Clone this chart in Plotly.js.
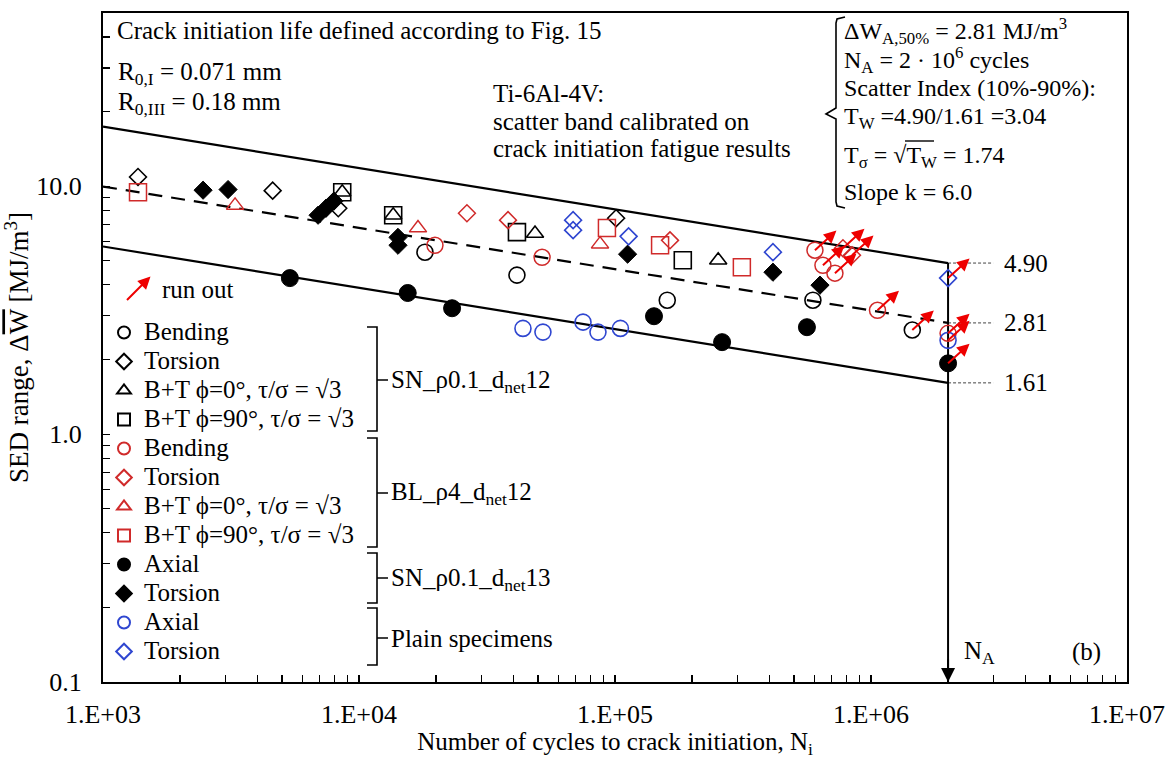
<!DOCTYPE html>
<html>
<head>
<meta charset="utf-8">
<script src="https://cdn.plot.ly/plotly-3.0.1.min.js"></script>
<style>
  html, body { margin: 0; padding: 0; background: #fff; }
  #chart { width: 1173px; height: 759px; }
</style>
</head>
<body>
<div id="chart"></div>
<script>
// ---- SN_ρ0.1_dnet12 (black, open symbols) ----
const snBendN = [1.81e4, 4.14e4, 1.60e5, 5.93e5, 1.45e6];
const snBendW = [5.42, 4.38, 3.47, 3.47, 2.63];
const snTorsN = [1.37e3, 4.60e3, 8.30e3, 1.01e5];
const snTorsW = [10.9, 9.60, 8.15, 7.43];
const snBt0N = [8.6e3, 1.36e4, 4.87e4, 2.53e5];
const snBt0W = [9.46, 7.64, 6.45, 5.03];
const snBt90N = [8.6e3, 1.36e4, 4.14e4, 1.84e5];
const snBt90W = [9.46, 7.64, 6.53, 5.03];

// ---- BL_ρ4_dnet12 (red, open symbols) ----
const blBendN = [1.98e4, 5.19e4, 6.04e5, 6.49e5, 7.23e5, 1.06e6, 2.0e6];
const blBendW = [5.78, 5.17, 5.52, 4.80, 4.46, 3.16, 2.55];
const blTorsN = [2.64e4, 3.82e4, 1.64e5, 7.77e5, 8.43e5];
const blTorsW = [7.78, 7.30, 6.05, 5.62, 5.27];
const blBt0N = [3.28e3, 1.70e4, 8.74e4];
const blBt0W = [8.37, 6.78, 5.84];
const blBt90N = [1.37e3, 9.30e4, 1.50e5, 3.13e5];
const blBt90W = [9.46, 6.78, 5.78, 4.71];

// ---- SN_ρ0.1_dnet13 (black, filled symbols) ----
const sn13AxN = [5.37e3, 1.55e4, 2.31e4, 1.42e5, 2.62e5, 5.62e5, 2.0e6];
const sn13AxW = [4.26, 3.71, 3.22, 2.99, 2.35, 2.70, 1.93];
const sn13TorsN = [2.46e3, 3.08e3, 6.92e3, 7.43e3, 7.98e3, 1.42e4, 1.42e4, 1.12e5, 4.14e5, 6.32e5];
const sn13TorsW = [9.64, 9.70, 7.64, 8.15, 8.71, 6.22, 5.78, 5.32, 4.50, 3.99];

// ---- Plain specimens (blue, open symbols) ----
const plainAxN = [4.37e4, 5.23e4, 7.50e4, 8.58e4, 1.05e5, 2.0e6];
const plainAxW = [2.67, 2.58, 2.83, 2.58, 2.67, 2.39];
const plainTorsN = [6.86e4, 6.86e4, 1.13e5, 4.14e5, 2.0e6];
const plainTorsW = [7.30, 6.65, 6.28, 5.42, 4.26];

// ---- run-outs (tests stopped without crack initiation) ----
const runoutN = [6.04e5, 6.49e5, 7.23e5, 7.77e5, 8.43e5, 1.06e6, 1.45e6, 2.0e6, 2.0e6, 2.0e6, 2.0e6];
const runoutW = [5.52, 4.80, 4.46, 5.62, 5.27, 3.16, 2.63, 4.26, 2.55, 2.39, 1.93];

// ---- scatter band: 10% / 50% / 90% survival at N_A, inverse slope k ----
const NA = 2e6;
const bandLevels = ['10%', '50%', '90%'];
const bandW = [4.90, 2.81, 1.61];
const slopeK = 6.0;
const NStart = 1e3;

// ---- axis ticks ----
const xDecades = [1e3, 1e4, 1e5, 1e6, 1e7];
const xDecadeLabels = ['1.E+03', '1.E+04', '1.E+05', '1.E+06', '1.E+07'];
const yLabelled = [0.1, 1, 10, 50];
const yLabels = ['0.1', '1.0', '10.0', '50.0'];

// ---------------------------------------------------------------
const FONT = 'Liberation Serif, Times New Roman, serif';
const TXT = 25;
const W = 1173, H = 759;
const M = { l: 103, r: 46, t: 13, b: 77 };
const plotW = W - M.l - M.r, plotH = H - M.t - M.b;
const px = x => (x - M.l) / plotW;          // pixel -> paper x
const py = y => (H - M.b - y) / plotH;      // pixel -> paper y

const RED = '#d02a2a', BLUE = '#2f46d0', BLACK = '#000000', ARROW = '#ee0000';

// minor tick positions (mantissa 1..9 of each decade)
const xTickVals = [], xTickText = [];
for (let d = 3; d <= 7; d++) {
  for (let m = 1; m <= 9; m++) {
    const v = m * Math.pow(10, d);
    if (v > 1e7) break;
    xTickVals.push(v);
    const k = xDecades.indexOf(v);
    xTickText.push(k >= 0 ? xDecadeLabels[k] : '');
  }
}
const yTickVals = [], yTickText = [];
for (let d = -1; d <= 1; d++) {
  for (let m = 1; m <= 9; m++) {
    const v = +(m * Math.pow(10, d)).toPrecision(3);
    if (v > 50) break;
    yTickVals.push(v);
    const k = yLabelled.indexOf(v);
    yTickText.push(k >= 0 ? yLabels[k] : '');
  }
}

const lg = t => '<span style="font-size:' + TXT + 'px">' + t + '</span>';
const BT0 = 'B+T \u03D5=0\u00B0, \u03C4/\u03C3 = \u221A3';
const BT90 = 'B+T \u03D5=90\u00B0, \u03C4/\u03C3 = \u221A3';

function series(n, w, name, symbol, color, size, lw) {
  return {
    x: n, y: w, name: lg(name), type: 'scatter', mode: 'markers',
    marker: { symbol: symbol, color: color, size: size, line: { color: color, width: lw } },
    cliponaxis: false
  };
}

// scatter band lines with slope 1/k in log-log
const bandLines = bandW.map((w, i) => ({
  x: [NStart, NA],
  y: [w * Math.pow(NStart / NA, -1 / slopeK), w],
  type: 'scatter', mode: 'lines', showlegend: false, hoverinfo: 'skip',
  line: { color: BLACK, width: 2.2, dash: i === 1 ? '14px,9px' : 'solid' }
}));

// leader lines to the band values
const leaders = bandW.map(w => ({
  x: [NA, NA * 1.5], y: [w, w], type: 'scatter', mode: 'lines',
  showlegend: false, hoverinfo: 'skip',
  line: { color: '#444', width: 1, dash: '3px,2px' }
}));

const naLine = {
  x: [NA, NA], y: [bandW[0], 0.1], type: 'scatter', mode: 'lines',
  showlegend: false, hoverinfo: 'skip', line: { color: BLACK, width: 2 }
};

const traces = [
  ...bandLines, ...leaders, naLine,
  series(snBendN, snBendW, 'Bending', 'circle-open', BLACK, 16, 1.6),
  series(snTorsN, snTorsW, 'Torsion', 'diamond-open', BLACK, 13, 1.6),
  series(snBt0N, snBt0W, BT0, 'triangle-up-open', BLACK, 15, 1.6),
  series(snBt90N, snBt90W, BT90, 'square-open', BLACK, 17, 1.6),
  series(blBendN, blBendW, 'Bending', 'circle-open', RED, 16, 1.5),
  series(blTorsN, blTorsW, 'Torsion', 'diamond-open', RED, 13, 1.5),
  series(blBt0N, blBt0W, BT0, 'triangle-up-open', RED, 15, 1.5),
  series(blBt90N, blBt90W, BT90, 'square-open', RED, 17, 1.5),
  series(sn13AxN, sn13AxW, 'Axial', 'circle', BLACK, 17, 1),
  series(sn13TorsN, sn13TorsW, 'Torsion', 'diamond', BLACK, 14, 1),
  series(plainAxN, plainAxW, 'Axial', 'circle-open', BLUE, 16, 1.6),
  series(plainTorsN, plainTorsW, 'Torsion', 'diamond-open', BLUE, 13, 1.6)
];

const annotations = [];
const txt = (x, y, text, size) => annotations.push({
  xref: 'paper', yref: 'paper', x: px(x), y: py(y), text: text,
  xanchor: 'left', yanchor: 'middle', showarrow: false,
  font: { family: FONT, size: size || TXT, color: BLACK }
});

// run-out arrows, pointing up-right from each run-out point
runoutN.forEach((n, i) => annotations.push({
  xref: 'x', yref: 'y', x: Math.log10(n), y: Math.log10(runoutW[i]),
  text: '', showarrow: true, arrowside: 'start', startarrowhead: 2,
  startarrowsize: 1.25, arrowwidth: 2, arrowcolor: ARROW,
  ax: 23, ay: -21, standoff: 0, startstandoff: 0
}));

// arrow head at N_A on the abscissa
annotations.push({
  xref: 'x', yref: 'y', x: Math.log10(NA), y: -1, text: '', showarrow: true,
  arrowhead: 2, arrowsize: 1.4, arrowwidth: 2, arrowcolor: BLACK, ax: 0, ay: -24, standoff: 0
});

// band values
bandW.forEach(w => annotations.push({
  xref: 'paper', yref: 'y', x: px(1002), y: Math.log10(w), text: w.toFixed(2),
  xanchor: 'left', yanchor: 'middle', showarrow: false,
  font: { family: FONT, size: TXT, color: BLACK }
}));

// run-out key
annotations.push({
  xref: 'paper', yref: 'paper', x: px(127), y: py(300), text: '', showarrow: true,
  arrowside: 'start', startarrowhead: 2, startarrowsize: 1.25, arrowwidth: 2,
  arrowcolor: ARROW, ax: 25, ay: -25, standoff: 0, startstandoff: 0
});
txt(160, 289, 'run out');

// text blocks
txt(115, 31, 'Crack initiation life defined according to Fig. 15');
txt(116, 73, 'R<sub>0,I</sub> = 0.071 mm');
txt(116, 103, 'R<sub>0,III</sub> = 0.18 mm');
txt(491, 93, 'Ti-6Al-4V:');
txt(491, 121, 'scatter band calibrated on');
txt(491, 148, 'crack initiation fatigue results');

const TW = bandW[0] / bandW[2];
const SB = 24;
txt(842, 31, '\u0394W<sub>A,50%</sub> = ' + bandW[1].toFixed(2) + ' MJ/m<sup>3</sup>', SB);
txt(842, 60, 'N<sub>A</sub> = 2 \u00B7 10<sup>6</sup> cycles', SB);
txt(842, 88, 'Scatter Index (10%-90%):', SB);
txt(842, 118, 'T<sub>W</sub> =' + bandW[0].toFixed(2) + '/' + bandW[2].toFixed(2) + ' =' + TW.toFixed(2), SB);
txt(842, 157, 'T<sub>\u03C3</sub> = \u221AT<sub>W</sub> = ' + Math.sqrt(TW).toFixed(2), SB);
txt(842, 192, 'Slope k = ' + slopeK.toFixed(1), SB);

// legend group labels
txt(389, 381, 'SN_\u03C10.1_d<sub>net</sub>12');
txt(389, 493, 'BL_\u03C14_d<sub>net</sub>12');
txt(389, 579, 'SN_\u03C10.1_d<sub>net</sub>13');
txt(389, 638, 'Plain specimens');

txt(962, 652, 'N<sub>A</sub>');
txt(1070, 652, '(b)');

// brackets
const shapes = [];
const P = (x, y) => px(x).toFixed(5) + ',' + py(y).toFixed(5);
function bracket(top, bot, mid) {
  const xv = 377;
  shapes.push({
    type: 'path', xref: 'paper', yref: 'paper', line: { color: BLACK, width: 1.6 },
    path: 'M' + P(367, top) + ' L' + P(xv, top) + ' L' + P(xv, bot) + ' L' + P(367, bot) +
          ' M' + P(xv, mid) + ' L' + P(388, mid)
  });
}
bracket(327, 431, 380);
bracket(438, 547, 493);
bracket(553, 603, 578);
bracket(608, 665, 638);

// brace of the statistics block
shapes.push({
  type: 'path', xref: 'paper', yref: 'paper', line: { color: BLACK, width: 1.6 },
  path: 'M' + P(845, 17) + ' L' + P(837, 19) + ' L' + P(836, 23) + ' L' + P(836, 108) +
        ' L' + P(826, 114) + ' L' + P(836, 119) + ' L' + P(836, 202) + ' L' + P(837, 206) +
        ' L' + P(845, 208)
});
// radical bar over T_W
shapes.push({
  type: 'line', xref: 'paper', yref: 'paper', line: { color: BLACK, width: 1.4 },
  x0: px(905), x1: px(934), y0: py(141), y1: py(141)
});

const layout = {
  width: W, height: H,
  margin: M,
  paper_bgcolor: '#fff', plot_bgcolor: '#fff',
  font: { family: FONT, color: BLACK },
  showlegend: true,
  legend: {
    x: px(104), xanchor: 'left', y: py(313), yanchor: 'top',
    font: { family: FONT, size: 20, color: BLACK },
    bgcolor: 'rgba(0,0,0,0)', borderwidth: 0, tracegroupgap: 0, itemsizing: 'constant'
  },
  xaxis: {
    type: 'log', range: [3, 7], tickmode: 'array', tickvals: xTickVals, ticktext: xTickText,
    ticks: 'inside', ticklen: 7, tickwidth: 1.2, tickcolor: BLACK,
    showline: true, linewidth: 2, linecolor: BLACK, mirror: true,
    showgrid: false, zeroline: false, automargin: false,
    tickfont: { family: FONT, size: 26, color: BLACK }, ticklabelstandoff: 8,
    title: { text: 'Number of cycles to crack initiation, N<sub>i</sub>',
             font: { family: FONT, size: 25, color: BLACK }, standoff: 4 }
  },
  yaxis: {
    type: 'log', range: [-1, Math.log10(50)], tickmode: 'array', tickvals: yTickVals, ticktext: yTickText,
    ticks: 'inside', ticklen: 7, tickwidth: 1.2, tickcolor: BLACK,
    showline: true, linewidth: 2, linecolor: BLACK, mirror: true,
    showgrid: false, zeroline: false, automargin: false,
    tickfont: { family: FONT, size: 26, color: BLACK }, ticklabelstandoff: 14,
    title: { text: 'SED range, \u0394<span style="text-decoration:overline">W</span> [MJ/m<sup>3</sup>]',
             font: { family: FONT, size: 27, color: BLACK }, standoff: 4 }
  },
  annotations: annotations,
  shapes: shapes
};

Plotly.newPlot('chart', traces, layout, { displayModeBar: false, staticPlot: true });
</script>
</body>
</html>
